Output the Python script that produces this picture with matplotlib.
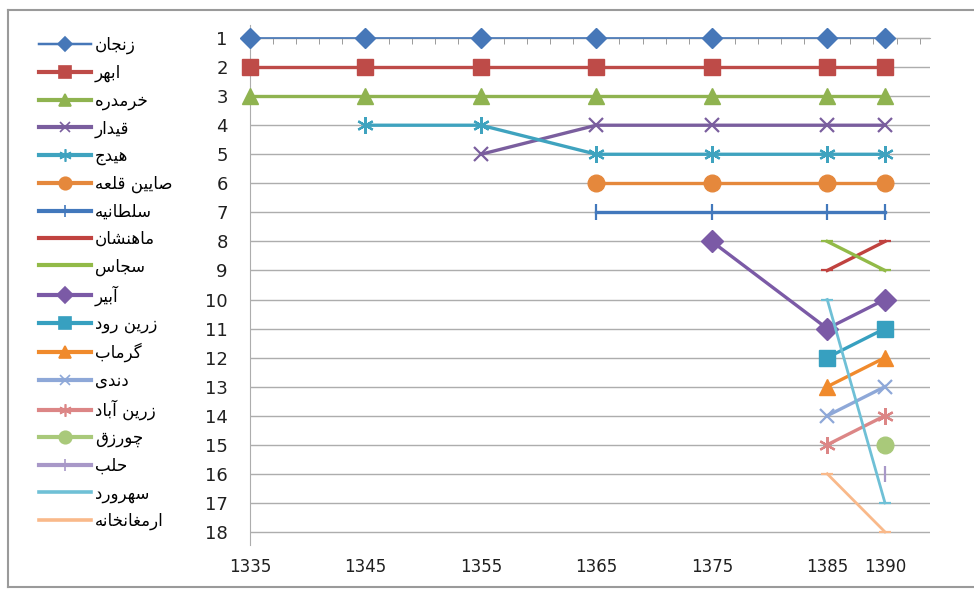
import numpy as np
import matplotlib.pyplot as plt
from matplotlib.lines import Line2D
from matplotlib.ticker import MultipleLocator

nan = np.nan

years = [1335, 1345, 1355, 1365, 1375, 1385, 1390]
rank_ticks = list(range(1, 19))

names = ['زنجان', 'ابهر', 'خرمدره', 'قیدار', 'هیدج', 'صایین قلعه', 'سلطانیه',
         'ماهنشان', 'سجاس', 'آبیر', 'زرین رود', 'گرماب', 'دندی', 'زرین آباد',
         'چورزق', 'حلب', 'سهرورد', 'ارمغانخانه']

zanjan = [1, 1, 1, 1, 1, 1, 1]
abhar = [2, 2, 2, 2, 2, 2, 2]
khorramdarreh = [3, 3, 3, 3, 3, 3, 3]
qeydar = [nan, nan, 5, 4, 4, 4, 4]
hidaj = [nan, 4, 4, 5, 5, 5, 5]
sain_qaleh = [nan, nan, nan, 6, 6, 6, 6]
soltanieh = [nan, nan, nan, 7, 7, 7, 7]
mahneshan = [nan, nan, nan, nan, nan, 9, 8]
sojas = [nan, nan, nan, nan, nan, 8, 9]
abbar = [nan, nan, nan, nan, 8, 11, 10]
zarrinrud = [nan, nan, nan, nan, nan, 12, 11]
garmab = [nan, nan, nan, nan, nan, 13, 12]
dandi = [nan, nan, nan, nan, nan, 14, 13]
zarrinabad = [nan, nan, nan, nan, nan, 15, 14]
chowrzeq = [nan, nan, nan, nan, nan, nan, 15]
halab = [nan, nan, nan, nan, nan, nan, 16]
sohrevard = [nan, nan, nan, nan, nan, 10, 17]
armaghankhaneh = [nan, nan, nan, nan, nan, 16, 18]

series = [zanjan, abhar, khorramdarreh, qeydar, hidaj, sain_qaleh, soltanieh,
          mahneshan, sojas, abbar, zarrinrud, garmab, dandi, zarrinabad,
          chowrzeq, halab, sohrevard, armaghankhaneh]

colors = ['#4677B8', '#BE4B48', '#8FB350', '#7A5E9E', '#3FA3BF', '#E5883C',
          '#4278BC', '#C0423F', '#92BA48', '#7B5AA6', '#37A0C0', '#F08A2C',
          '#8EA8D8', '#DC8686', '#A9C97A', '#A898C8', '#6FC0D6', '#F9B98A']

asterisk = (6, 2, 0)
markers = ['D', 's', '^', 'x', asterisk, 'o', '|', '_', '_',
           'D', 's', '^', 'x', asterisk, 'o', '|', '_', '_']
msizes = [10, 12, 11, 10, 12, 12, 12, 8, 8, 11, 12, 11, 10, 12, 12, 12, 8, 8]
lwidths = [1.2, 2.4, 2.4, 2.4, 2.4, 2.4, 2.4, 2.4, 2.4,
           2.4, 2.4, 2.4, 2.4, 2.4, 2.4, 2.4, 2.0, 2.0]


# simple Persian shaping (matplotlib has no bidi / contextual forms)
FORMS = {
    'ا': ('\uFE8D', '\uFE8E'), 'آ': ('\uFE81', '\uFE82'),
    'د': ('\uFEA9', '\uFEAA'), 'ر': ('\uFEAD', '\uFEAE'),
    'ز': ('\uFEAF', '\uFEB0'), 'و': ('\uFEED', '\uFEEE'),
    'ب': ('\uFE8F', '\uFE90', '\uFE91', '\uFE92'),
    'ت': ('\uFE95', '\uFE96', '\uFE97', '\uFE98'),
    'ج': ('\uFE9D', '\uFE9E', '\uFE9F', '\uFEA0'),
    'چ': ('\uFB7A', '\uFB7B', '\uFB7C', '\uFB7D'),
    'ح': ('\uFEA1', '\uFEA2', '\uFEA3', '\uFEA4'),
    'خ': ('\uFEA5', '\uFEA6', '\uFEA7', '\uFEA8'),
    'س': ('\uFEB1', '\uFEB2', '\uFEB3', '\uFEB4'),
    'ش': ('\uFEB5', '\uFEB6', '\uFEB7', '\uFEB8'),
    'ص': ('\uFEB9', '\uFEBA', '\uFEBB', '\uFEBC'),
    'ط': ('\uFEC1', '\uFEC2', '\uFEC3', '\uFEC4'),
    'ع': ('\uFEC9', '\uFECA', '\uFECB', '\uFECC'),
    'غ': ('\uFECD', '\uFECE', '\uFECF', '\uFED0'),
    'ق': ('\uFED5', '\uFED6', '\uFED7', '\uFED8'),
    'گ': ('\uFB92', '\uFB93', '\uFB94', '\uFB95'),
    'ل': ('\uFEDD', '\uFEDE', '\uFEDF', '\uFEE0'),
    'م': ('\uFEE1', '\uFEE2', '\uFEE3', '\uFEE4'),
    'ن': ('\uFEE5', '\uFEE6', '\uFEE7', '\uFEE8'),
    'ه': ('\uFEE9', '\uFEEA', '\uFEEB', '\uFEEC'),
    'ی': ('\uFEEF', '\uFEF0', '\uFEF3', '\uFEF4'),
}


def shape(word):
    out = []
    for i, ch in enumerate(word):
        if ch not in FORMS:
            out.append(ch)
            continue
        prev = word[i - 1] if i > 0 else ''
        nxt = word[i + 1] if i + 1 < len(word) else ''
        join_prev = prev in FORMS and len(FORMS[prev]) == 4
        join_next = len(FORMS[ch]) == 4 and nxt in FORMS
        f = FORMS[ch]
        if join_prev and join_next:
            out.append(f[3])
        elif join_prev:
            out.append(f[1])
        elif join_next:
            out.append(f[2])
        else:
            out.append(f[0])
    return ''.join(reversed(out))


fig = plt.figure(figsize=(9.74, 5.91), dpi=100)
ax = fig.add_axes([250 / 974, 1 - 545 / 591, (930 - 250) / 974, (545 - 25) / 591])

for i, vals in enumerate(series):
    ax.plot(years, vals, color=colors[i], lw=lwidths[i], marker=markers[i],
            ms=msizes[i], mec=colors[i], mew=1.6 if markers[i] in ('x', asterisk, '|', '_') else 1,
            clip_on=False, zorder=3 + i * 0.01)

ax.set_xlim(1335, 1393.9)
ax.set_ylim(18.45, 0.55)
ax.set_yticks(rank_ticks)
ax.set_xticks(years)
ax.xaxis.set_minor_locator(MultipleLocator(2, offset=1))
ax.grid(axis='y', color='#ADADAD', lw=1)

for s in ['right', 'bottom']:
    ax.spines[s].set_visible(False)
ax.spines['left'].set_color('#ADADAD')
ax.spines['top'].set_position(('data', 1))
ax.spines['top'].set_color('#ADADAD')

ax.tick_params(axis='y', length=0, pad=16, labelsize=13, labelcolor='#202020')
ax.tick_params(axis='x', which='major', bottom=False, top=True, direction='in',
               length=4, color='#8A8A8A', labelbottom=True, labeltop=False,
               pad=9, labelsize=12, labelcolor='#202020')
ax.tick_params(axis='x', which='minor', bottom=False, top=True, direction='in',
               length=4, color='#8A8A8A')

handles = [Line2D([0], [0], color=colors[i], lw=lwidths[i] + 0.6, marker=markers[i],
                  ms=msizes[i] * 0.75, mec=colors[i], mew=1.2)
           for i in range(len(series))]
fig.legend(handles, [shape(n) for n in names], loc='upper left',
           bbox_to_anchor=(39 / 974, 1 - 36 / 591), bbox_transform=fig.transFigure,
           frameon=False, borderpad=0, borderaxespad=0, handlelength=3.1,
           handletextpad=0.25, labelspacing=0.565, numpoints=1,
           prop={'family': 'DejaVu Sans', 'size': 12})

# outer chart border (left, top, bottom; right edge lies outside the picture)
border = dict(color='#9A9A9A', lw=1.5, transform=fig.transFigure)
fig.add_artist(Line2D([8 / 974, 8 / 974], [1 - 10 / 591, 1 - 587 / 591], **border))
fig.add_artist(Line2D([8 / 974, 1], [1 - 10 / 591, 1 - 10 / 591], **border))
fig.add_artist(Line2D([8 / 974, 1], [1 - 587 / 591, 1 - 587 / 591], **border))

fig.savefig('out.png', dpi=100)
